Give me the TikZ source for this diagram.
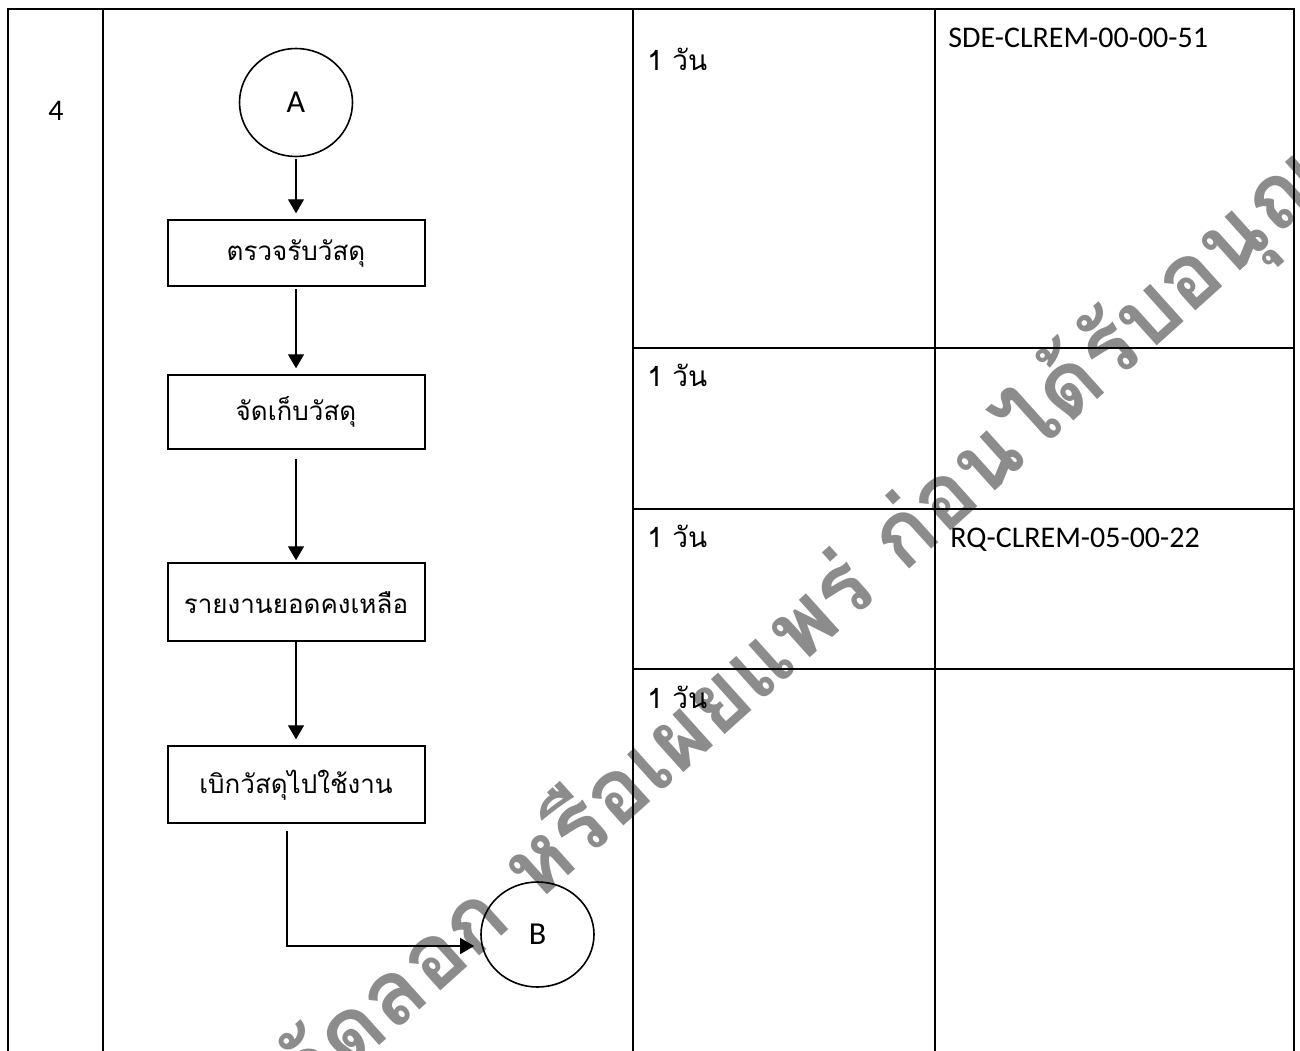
\documentclass[tikz,border=0pt]{standalone}
\usepackage{fontspec}
\setmainfont{Carlito}
\newfontfamily\thaifont[Script=Thai]{Loma}
\usetikzlibrary{shapes.geometric, arrows.meta, positioning}

\begin{document}
\begin{tikzpicture}[
  x=0.5pt, y=-0.5pt,
  font=\fontsize{15}{18}\selectfont,
  grid/.style={line width=1pt},
  connector/.style={ellipse, draw, line width=0.8pt, minimum width=56.5pt, minimum height=54pt, inner sep=0pt, font=\fontsize{16}{18}\selectfont},
  process/.style={rectangle, draw, line width=1pt, minimum width=128.5pt, align=center, font=\thaifont\fontsize{13}{16}\selectfont},
  daytext/.style={anchor=base west, inner sep=0pt, font=\thaifont\fontsize{14}{16}\selectfont},
  doctext/.style={anchor=base west, inner sep=0pt},
  watermark/.style={rotate=42, text=black!45, font=\thaifont\bfseries\fontsize{45}{48}\selectfont},
  arrow/.style={-{Triangle[length=7pt, width=8pt]}, line width=0.6pt, shorten >=3pt, shorten <=1pt}
]
\useasboundingbox (0,0) rectangle (1300,1050);
\clip (0,0) rectangle (1300,1050);

% WATERMARK
\node[watermark] (wm) at (778,652) {ห้ามคัดลอก หรือเผยแพร่ ก่อนได้รับอนุญาต};

% TABLE
\draw[grid] (7.5,1060) -- (7.5,9) -- (1294,9) -- (1294,1060);
\draw[grid] (102.5,9) -- (102.5,1060);
\draw[grid] (632.5,9) -- (632.5,1060);
\draw[grid] (934.5,9) -- (934.5,1060);
\foreach \y in {348,509,669}
  \draw[grid] (632.5,\y) -- (1294,\y);

\node[anchor=base] (step) at (56,120) {4};

% NODES
\node[connector] (A) at (296,102.5) {A};
\node[process, below=31pt of A, minimum height=33pt] (check) {ตรวจรับวัสดุ};
\node[process, below=43.5pt of check, minimum height=37pt] (store) {จัดเก็บวัสดุ};
\node[process, below=56pt of store, minimum height=39pt] (report) {รายงานยอดคงเหลือ};
\node[process, below=51.5pt of report, minimum height=38.5pt] (issue) {เบิกวัสดุไปใช้งาน};
\node[connector, minimum height=52.5pt] (B) at (537.5,934.5) {B};

% TIME / DOCUMENTS
\node[daytext] (t1) at (647,70) {1 วัน};
\node[daytext] (t2) at (647,386) {1 วัน};
\node[daytext] (t3) at (647,547) {1 วัน};
\node[daytext] (t4) at (647,708) {1 วัน};
\node[doctext] (d1) at (948,47) {SDE-CLREM-00-00-51};
\node[doctext] (d3) at (950,547) {RQ-CLREM-05-00-22};

% FLOW
\draw[arrow] (A) -- (check);
\draw[arrow] (check) -- (store);
\draw[arrow, shorten <=4.5pt, shorten >=1pt] (store) -- (report);
\draw[arrow, shorten <=0pt] (report) -- (issue);
\draw[arrow, shorten <=3.5pt] ([xshift=-4.5pt]issue.south) |- ([yshift=-5.75pt]B.west);

\end{tikzpicture}
\end{document}
